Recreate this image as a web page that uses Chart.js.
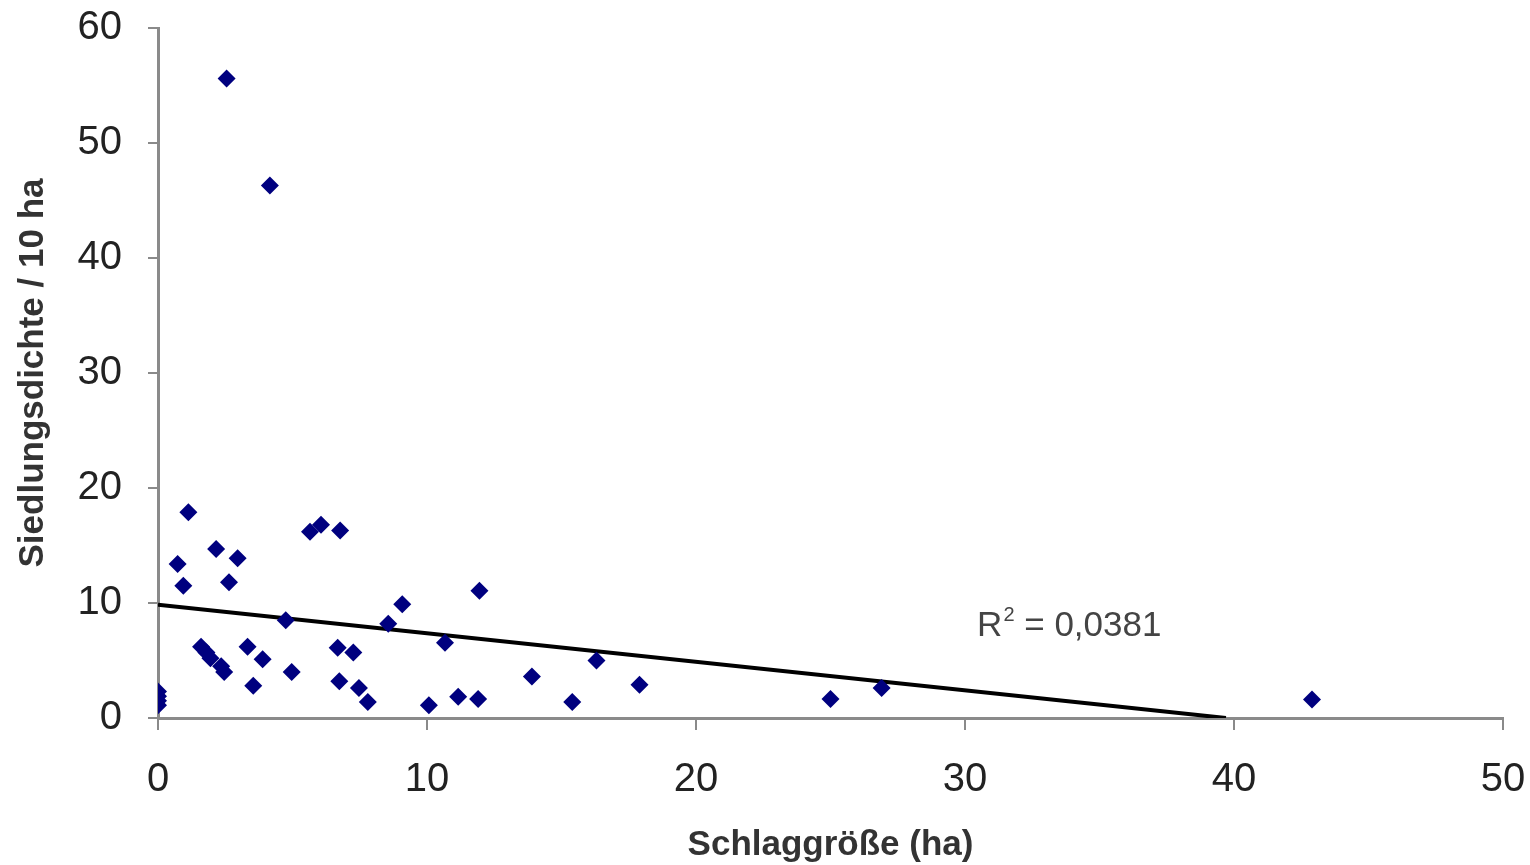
<!DOCTYPE html>
<html>
<head>
<meta charset="utf-8">
<script src="https://cdn.jsdelivr.net/npm/chart.js@4"></script>
<style>
  body { margin: 0; background: #fff; }
  #wrap { width: 1530px; height: 865px; }
</style>
</head>
<body>
<div id="wrap"><canvas id="chart"></canvas></div>
<script>
// Schlaggröße (ha) vs. Siedlungsdichte / 10 ha
const xVals = [0, 0, 0, 0, 0.73, 0.94, 1.13, 1.6, 1.8, 1.95, 2.16, 2.35, 2.46, 2.55, 2.64, 2.96,
  3.33, 3.54, 3.89, 4.16, 4.75, 4.97, 5.65, 6.06, 6.68, 6.74, 6.77, 7.26, 7.47, 7.8, 8.56, 9.08,
  10.07, 10.67, 11.16, 11.9, 11.95, 13.9, 15.4, 16.3, 17.9, 25.0, 26.9, 42.9];
const yVals = [2.3, 1.9, 1.5, 1.1, 13.4, 11.5, 17.9, 6.2, 5.7, 5.2, 14.7, 4.5, 4.0, 55.6, 11.8, 13.9,
  6.2, 2.8, 5.1, 46.3, 8.5, 4.0, 16.2, 16.8, 6.1, 3.2, 16.3, 5.7, 2.6, 1.4, 8.2, 9.9,
  1.1, 6.55, 1.85, 1.65, 11.07, 3.6, 1.4, 5.0, 2.9, 1.65, 2.6, 1.6];

// linear trend line (Excel style)
const trendX = [0, 39.7];
const trendY = [9.85, 0];
const r2Text = '0,0381';
const r2Pos = [30.45, 7.1];

const xTicks = [0, 10, 20, 30, 40, 50];
const yTicks = [0, 10, 20, 30, 40, 50, 60];

const points = xVals.map((x, i) => ({ x: x, y: yVals[i] }));
const trend = trendX.map((x, i) => ({ x: x, y: trendY[i] }));

const r2Label = {
  id: 'r2Label',
  afterDatasetsDraw(chart) {
    const ctx = chart.ctx;
    const px = chart.scales.x.getPixelForValue(r2Pos[0]);
    const py = chart.scales.y.getPixelForValue(r2Pos[1]);
    ctx.save();
    ctx.fillStyle = '#444';
    ctx.textBaseline = 'alphabetic';
    ctx.font = '35px "Liberation Sans", Arial, sans-serif';
    ctx.fillText('R', px, py);
    let w = ctx.measureText('R').width;
    ctx.font = '20px "Liberation Sans", Arial, sans-serif';
    ctx.fillText('2', px + w + 1, py - 15);
    w += ctx.measureText('2').width + 1;
    ctx.font = '35px "Liberation Sans", Arial, sans-serif';
    ctx.fillText(' = ' + r2Text, px + w, py);
    ctx.restore();
  }
};

new Chart(document.getElementById('chart'), {
  type: 'scatter',
  data: {
    datasets: [{
      data: points,
      pointStyle: 'rectRot',
      pointRadius: 9,
      pointHoverRadius: 9,
      backgroundColor: '#00007f',
      borderColor: '#00007f',
      borderWidth: 0
    }, {
      type: 'line',
      data: trend,
      borderColor: '#000',
      borderWidth: 4,
      pointRadius: 0,
      fill: false
    }]
  },
  options: {
    responsive: true,
    maintainAspectRatio: false,
    animation: false,
    layout: { padding: { top: 28, right: 27, left: 0, bottom: 0 } },
    plugins: { legend: { display: false }, tooltip: { enabled: false } },
    scales: {
      x: {
        type: 'linear',
        min: 0, max: 50,
        afterBuildTicks: s => { s.ticks = xTicks.map(v => ({ value: v })); },
        afterFit: s => { s.height = 147; s.paddingLeft = 0; s.paddingRight = 0; },
        grid: { drawOnChartArea: false, drawTicks: true, tickLength: 12, color: '#8a8a8a', lineWidth: 2 },
        border: { color: '#8a8a8a', width: 3 },
        ticks: { color: '#222', padding: 26, font: { size: 40, family: '"Liberation Sans", Arial, sans-serif' } },
        title: {
          display: true, text: 'Schlaggröße (ha)', color: '#333',
          padding: { top: 0, bottom: 0 },
          font: { size: 35, weight: 'bold', lineHeight: 1.1, family: '"Liberation Sans", Arial, sans-serif' }
        }
      },
      y: {
        type: 'linear',
        min: 0, max: 60,
        afterBuildTicks: s => { s.ticks = yTicks.map(v => ({ value: v })); },
        afterFit: s => { s.width = 158; s.paddingTop = 0; s.paddingBottom = 0; },
        grid: { drawOnChartArea: false, drawTicks: true, tickLength: 10, color: '#8a8a8a', lineWidth: 2 },
        border: { color: '#8a8a8a', width: 3 },
        ticks: { color: '#222', padding: 26, font: { size: 40, family: '"Liberation Sans", Arial, sans-serif' } },
        title: {
          display: true, text: 'Siedlungsdichte / 10 ha', color: '#333',
          padding: { top: 14, bottom: 0 },
          font: { size: 35, weight: 'bold', lineHeight: 1.1, family: '"Liberation Sans", Arial, sans-serif' }
        }
      }
    }
  },
  plugins: [r2Label]
});
</script>
</body>
</html>
